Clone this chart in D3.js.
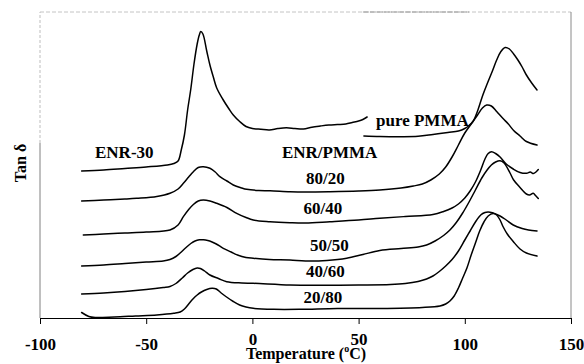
<!DOCTYPE html>
<html>
<head>
<meta charset="utf-8">
<script src="https://cdn.jsdelivr.net/npm/d3@7"></script>
<style>
  html, body { margin: 0; padding: 0; background: #fff; }
  svg { display: block; }
  text { font-family: "Liberation Serif", "Times New Roman", serif; font-weight: bold; fill: #000; }
</style>
</head>
<body>
<svg id="chart" width="584" height="364"></svg>
<script>
// Tan δ vs temperature for ENR-30, pure PMMA and ENR/PMMA blends.
// Curves are vertically offset from one another (arbitrary units).

const xTicks = [-100, -50, 0, 50, 100, 150];

const enr30Temp = [-80.4, -70, -60, -50, -40, -37, -35, -33.5, -32, -30.5, -29, -27.5, -26, -25, -24.3, -23.3, -21.5, -20, -18.4, -16.8, -14, -11, -9, -6, -3, 0, 4, 8, 12, 16, 20, 24, 28, 32, 36, 40, 44, 47, 50, 52, 54];
const enr30Tan  = [1.47, 1.48, 1.495, 1.51, 1.53, 1.545, 1.57, 1.68, 1.83, 2.08, 2.29, 2.54, 2.74, 2.83, 2.865, 2.84, 2.67, 2.53, 2.41, 2.30, 2.19, 2.09, 2.03, 1.965, 1.915, 1.895, 1.887, 1.88, 1.895, 1.903, 1.895, 1.89, 1.908, 1.92, 1.93, 1.935, 1.94, 1.955, 1.97, 1.985, 2.01];

const pmmaTemp = [52.5, 60, 70, 78, 85, 92, 97, 100, 102, 104, 106, 108.5, 110.5, 113, 115, 117, 119, 121, 123, 125, 127, 129, 131.5, 134];
const pmmaTan  = [1.82, 1.815, 1.813, 1.817, 1.835, 1.855, 1.87, 1.895, 1.925, 1.97, 2.07, 2.23, 2.34, 2.47, 2.58, 2.665, 2.705, 2.69, 2.64, 2.58, 2.51, 2.43, 2.35, 2.28];

const b8020Temp = [-80.4, -70, -60, -54.5, -45, -38.8, -35, -32.5, -30, -27.8, -25.5, -23.1, -20, -17.5, -15.3, -12, -9, -5, -2.7, 3, 8.3, 17.7, 25, 36.5, 50, 60, 70, 75.8, 80, 84, 88, 91, 94, 97, 100, 103, 106, 108.3, 110.3, 112.5, 115, 118, 120.5, 123, 126, 129, 134];
const b8020Tan  = [1.17, 1.18, 1.19, 1.197, 1.215, 1.247, 1.29, 1.347, 1.41, 1.463, 1.505, 1.513, 1.497, 1.46, 1.413, 1.37, 1.33, 1.30, 1.287, 1.275, 1.273, 1.263, 1.26, 1.263, 1.27, 1.28, 1.30, 1.32, 1.34, 1.38, 1.44, 1.51, 1.61, 1.73, 1.85, 1.94, 2.03, 2.10, 2.13, 2.12, 2.065, 1.995, 1.94, 1.875, 1.82, 1.765, 1.73];

const b6040Temp = [-79.6, -70, -60, -50, -38.8, -35, -32.5, -30, -27.8, -25.5, -23.1, -20, -16.8, -12, -7.4, -3, 0.4, 8.3, 17.7, 25, 36.5, 50, 60, 72, 85, 90, 94, 97, 100, 102.5, 105, 107.5, 109.5, 111, 112.6, 114.5, 116.6, 119.5, 122.8, 126, 129.1, 130.8, 132.3, 133.5, 134.6];
const b6040Tan  = [0.83, 0.84, 0.85, 0.86, 0.88, 0.93, 1.013, 1.085, 1.135, 1.17, 1.18, 1.17, 1.147, 1.105, 1.047, 1.005, 0.98, 0.963, 0.953, 0.95, 0.963, 0.98, 0.997, 1.015, 1.035, 1.065, 1.10, 1.14, 1.20, 1.27, 1.36, 1.48, 1.59, 1.645, 1.663, 1.645, 1.61, 1.54, 1.49, 1.455, 1.447, 1.46, 1.445, 1.46, 1.485];

const b5050Temp = [-80.4, -70, -60, -50, -42, -38.8, -36, -34, -31.5, -29, -27, -25, -23, -21, -19, -17, -13.7, -10, -7, -3, 0.4, 8, 17.7, 25, 35, 44.4, 52, 60, 70, 78, 82, 86, 90, 93, 96, 99, 102, 105, 108, 110.5, 112.5, 114.5, 116.6, 118.5, 121.3, 123, 126, 129, 130.5, 132.2, 133.3, 134.6];
const b5050Tan  = [0.52, 0.53, 0.545, 0.56, 0.57, 0.585, 0.615, 0.65, 0.70, 0.745, 0.77, 0.782, 0.783, 0.775, 0.76, 0.74, 0.697, 0.66, 0.63, 0.605, 0.597, 0.585, 0.58, 0.57, 0.575, 0.597, 0.635, 0.675, 0.695, 0.71, 0.73, 0.77, 0.825, 0.88, 0.955, 1.05, 1.16, 1.28, 1.40, 1.48, 1.53, 1.56, 1.573, 1.55, 1.45, 1.38, 1.305, 1.24, 1.23, 1.247, 1.225, 1.195];

const b4060Temp = [-80.4, -70, -60, -50, -42, -38.8, -36, -33, -30.5, -28, -26, -24.5, -22.5, -20, -16, -12.1, -5, 0.4, 17.7, 30, 50, 65, 72, 78, 82, 85, 88, 91, 94, 97, 100, 102.5, 105, 107.5, 109.5, 111, 113, 116.6, 119.5, 122.8, 127, 130, 134];
const b4060Tan  = [0.24, 0.25, 0.265, 0.285, 0.305, 0.315, 0.345, 0.40, 0.45, 0.485, 0.50, 0.495, 0.47, 0.43, 0.395, 0.363, 0.35, 0.347, 0.33, 0.327, 0.33, 0.335, 0.345, 0.365, 0.39, 0.42, 0.465, 0.52, 0.585, 0.67, 0.78, 0.87, 0.96, 1.03, 1.055, 1.06, 1.052, 1.02, 0.98, 0.93, 0.895, 0.88, 0.87];

const b2080Temp = [-80.4, -77, -74, -65, -55, -45, -37, -34, -32, -30, -28, -26, -24, -21.5, -19, -17, -15, -12.5, -9, -6, -3, 0.4, 10, 22.4, 40, 60, 80, 88.3, 91, 93, 95, 97, 99, 101, 103, 105, 107, 109, 111, 113.3, 115, 116.6, 118.1, 120, 122.8, 126, 129, 134];
const b2080Tan  = [0.055, 0.015, 0.005, 0.01, 0.02, 0.03, 0.047, 0.06, 0.09, 0.14, 0.19, 0.23, 0.26, 0.285, 0.297, 0.29, 0.255, 0.215, 0.165, 0.13, 0.11, 0.097, 0.087, 0.087, 0.095, 0.095, 0.105, 0.12, 0.14, 0.17, 0.22, 0.30, 0.40, 0.50, 0.63, 0.75, 0.87, 0.96, 1.02, 1.045, 1.03, 0.98, 0.91, 0.84, 0.765, 0.69, 0.65, 0.62];

const seriesTemps = [enr30Temp, pmmaTemp, b8020Temp, b6040Temp, b5050Temp, b4060Temp, b2080Temp];
const seriesTans  = [enr30Tan, pmmaTan, b8020Tan, b6040Tan, b5050Tan, b4060Tan, b2080Tan];

// In-plot annotations: text, start temperature and offset tan δ of the baseline
const labelTexts = ["ENR-30", "pure PMMA", "ENR/PMMA", "80/20", "60/40", "50/50", "40/60", "20/80"];
const labelTemps = [-74.1, 58.2, 13.9, 25.2, 24.1, 27.1, 25.2, 24.1];
const labelTans  = [1.60, 1.925, 1.605, 1.34, 1.04, 0.67, 0.415, 0.15];

const svg = d3.select("#chart");
const margin = { left: 40, right: 13, top: 12, bottom: 46 };
const W = 584, H = 364;

const x = d3.scaleLinear().domain([-100, 150]).range([margin.left, W - margin.right]);
const y = d3.scaleLinear().domain([0, 3.06]).range([H - margin.bottom, margin.top]);

// frame (light grey)
const frame = svg.append("g");
frame.append("line")
  .attr("x1", x(-100)).attr("x2", x(-100))
  .attr("y1", y(0)).attr("y2", y(1.75))
  .attr("stroke", "#808080").attr("stroke-width", 1);
frame.append("line")
  .attr("x1", x(-100)).attr("x2", x(-100))
  .attr("y1", y(1.75)).attr("y2", y(3.06))
  .attr("stroke", "#bdbdbd").attr("stroke-width", 1).attr("stroke-dasharray", "3,2");
frame.append("line")
  .attr("x1", x(-100)).attr("x2", x(150))
  .attr("y1", y(3.06)).attr("y2", y(3.06))
  .attr("stroke", "#c4c4c4").attr("stroke-width", 1).attr("stroke-dasharray", "4,2");
frame.append("line")
  .attr("x1", x(52)).attr("x2", x(102))
  .attr("y1", y(3.06)).attr("y2", y(3.06))
  .attr("stroke", "#9a9a9a").attr("stroke-width", 1).attr("stroke-dasharray", "6,1");
frame.append("line")
  .attr("x1", x(150)).attr("x2", x(150))
  .attr("y1", y(3.06)).attr("y2", y(0))
  .attr("stroke", "#8a8a8a").attr("stroke-width", 1);

// x axis
const xAxis = d3.axisBottom(x).tickValues(xTicks).tickSize(6).tickSizeOuter(0).tickFormat(d => String(d));
const gx = svg.append("g").attr("transform", `translate(0,${y(0)})`).call(xAxis);
gx.attr("font-family", null).attr("font-size", null);
gx.select(".domain").attr("stroke", "#000").attr("stroke-width", 1.2);
gx.selectAll(".tick line").attr("stroke", "#000").attr("stroke-width", 1);
gx.selectAll(".tick text")
  .attr("dy", null)
  .attr("y", d => (d === 0 || d === 50) ? 27 : 32)
  .style("font-family", "'Liberation Serif', 'Times New Roman', serif")
  .style("font-weight", "bold")
  .style("font-size", "17px")
  .attr("fill", "#000");

// axis titles
const title = svg.append("text")
  .attr("x", 306).attr("y", 359)
  .attr("text-anchor", "middle")
  .style("font-size", "16px");
title.append("tspan").text("Temperature (");
title.append("tspan").text("o").style("font-size", "10px").attr("dy", -7);
title.append("tspan").text("C)").attr("dy", 7);

svg.append("text")
  .attr("transform", "translate(26,163) rotate(-90)")
  .attr("text-anchor", "middle")
  .style("font-size", "16px")
  .text("Tan δ");

// curves
const line = d3.line()
  .x(d => x(d[0]))
  .y(d => y(d[1]))
  .curve(d3.curveCatmullRom.alpha(0.5));

svg.append("g").selectAll("path")
  .data(seriesTemps.map((ts, i) => ts.map((t, j) => [t, seriesTans[i][j]])))
  .join("path")
  .attr("d", line)
  .attr("fill", "none")
  .attr("stroke", "#000")
  .attr("stroke-width", 1.5)
  .attr("stroke-linejoin", "round")
  .attr("stroke-linecap", "round");

// annotations
svg.append("g").selectAll("text")
  .data(labelTexts)
  .join("text")
  .attr("x", (d, i) => x(labelTemps[i]))
  .attr("y", (d, i) => y(labelTans[i]))
  .style("font-size", "17px")
  .text(d => d);
</script>
</body>
</html>
